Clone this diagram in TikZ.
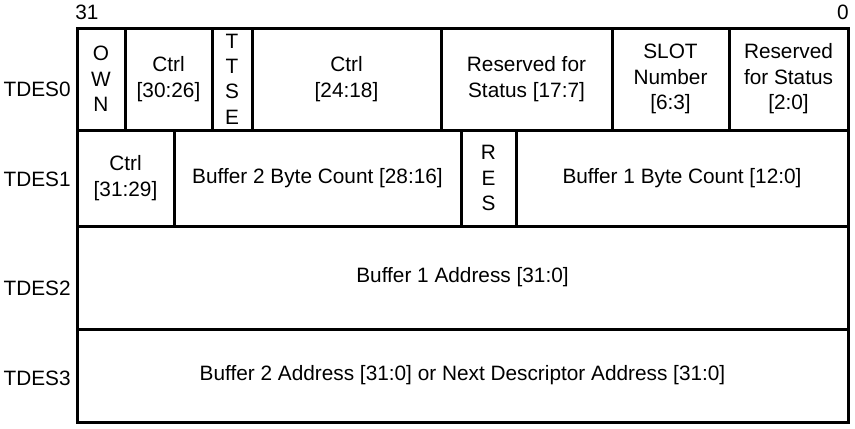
\documentclass[tikz,border=0pt]{standalone}
\usepackage{fontspec}
\setmainfont{Liberation Sans}
\begin{document}
\begin{tikzpicture}
[x=0.5pt,y=-0.5pt,%
  fielddecorate/.style={shape=rectangle,draw,line width=1.5pt,inner sep=0pt,
    outer sep=0pt,align=center,font=\fontsize{10.4}{12.7}\selectfont},%
  labeldecorate/.style={inner sep=0pt,font=\fontsize{10.4}{12}\selectfont}]
\useasboundingbox (0,0) rectangle (855,428);
%% bit numbers
\node (msb) at (87,12) [labeldecorate] {31};
\node (lsb) at (843,12) [labeldecorate] {0};
%% word names
\foreach \wordname/\y in {0/89, 1/179, 2/288, 3/378}
{
  \node (tdes\wordname) at (71,\y) [labeldecorate,anchor=east] {TDES\wordname};
}
%% fields of the descriptor
\foreach \fieldname/\xa/\xb/\ya/\yb/\fieldtext in {
  own/77/125/28/130/{O\\W\\N},
  ctrlhi/125/212/28/130/{Ctrl\\{[}30:26{]}},
  ttse/212/252/28/130/{T\\T\\S\\E},
  ctrllo/252/441/28/130/{Ctrl\\{[}24:18{]}},
  resmid/441/612/28/130/{Reserved for\\Status {[}17:7{]}},
  slot/612/729/28/130/{SLOT\\Number\\{[}6:3{]}},
  reslo/729/848/28/130/{Reserved\\for Status\\{[}2:0{]}},
  ctrltop/77/174/130/226/{Ctrl\\{[}31:29{]}},
  bcnttwo/174/461/130/226/{Buffer 2 Byte Count {[}28:16{]}},
  res/461/516/130/226/{R\\E\\S},
  bcntone/516/848/130/226/{Buffer 1 Byte Count {[}12:0{]}},
  baddrone/77/848/226/329/{Buffer 1 Address {[}31:0{]}},
  baddrtwo/77/848/329/422/{Buffer 2 Address {[}31:0{]} or Next Descriptor Address {[}31:0{]}}}
{
  \node (\fieldname) at ({(\xa+\xb)/2},{(\ya+\yb)/2})
    [fielddecorate,minimum width={(\xb-\xa)*0.5pt},
     minimum height={(\yb-\ya)*0.5pt}] {\fieldtext};
}
\end{tikzpicture}
\end{document}
